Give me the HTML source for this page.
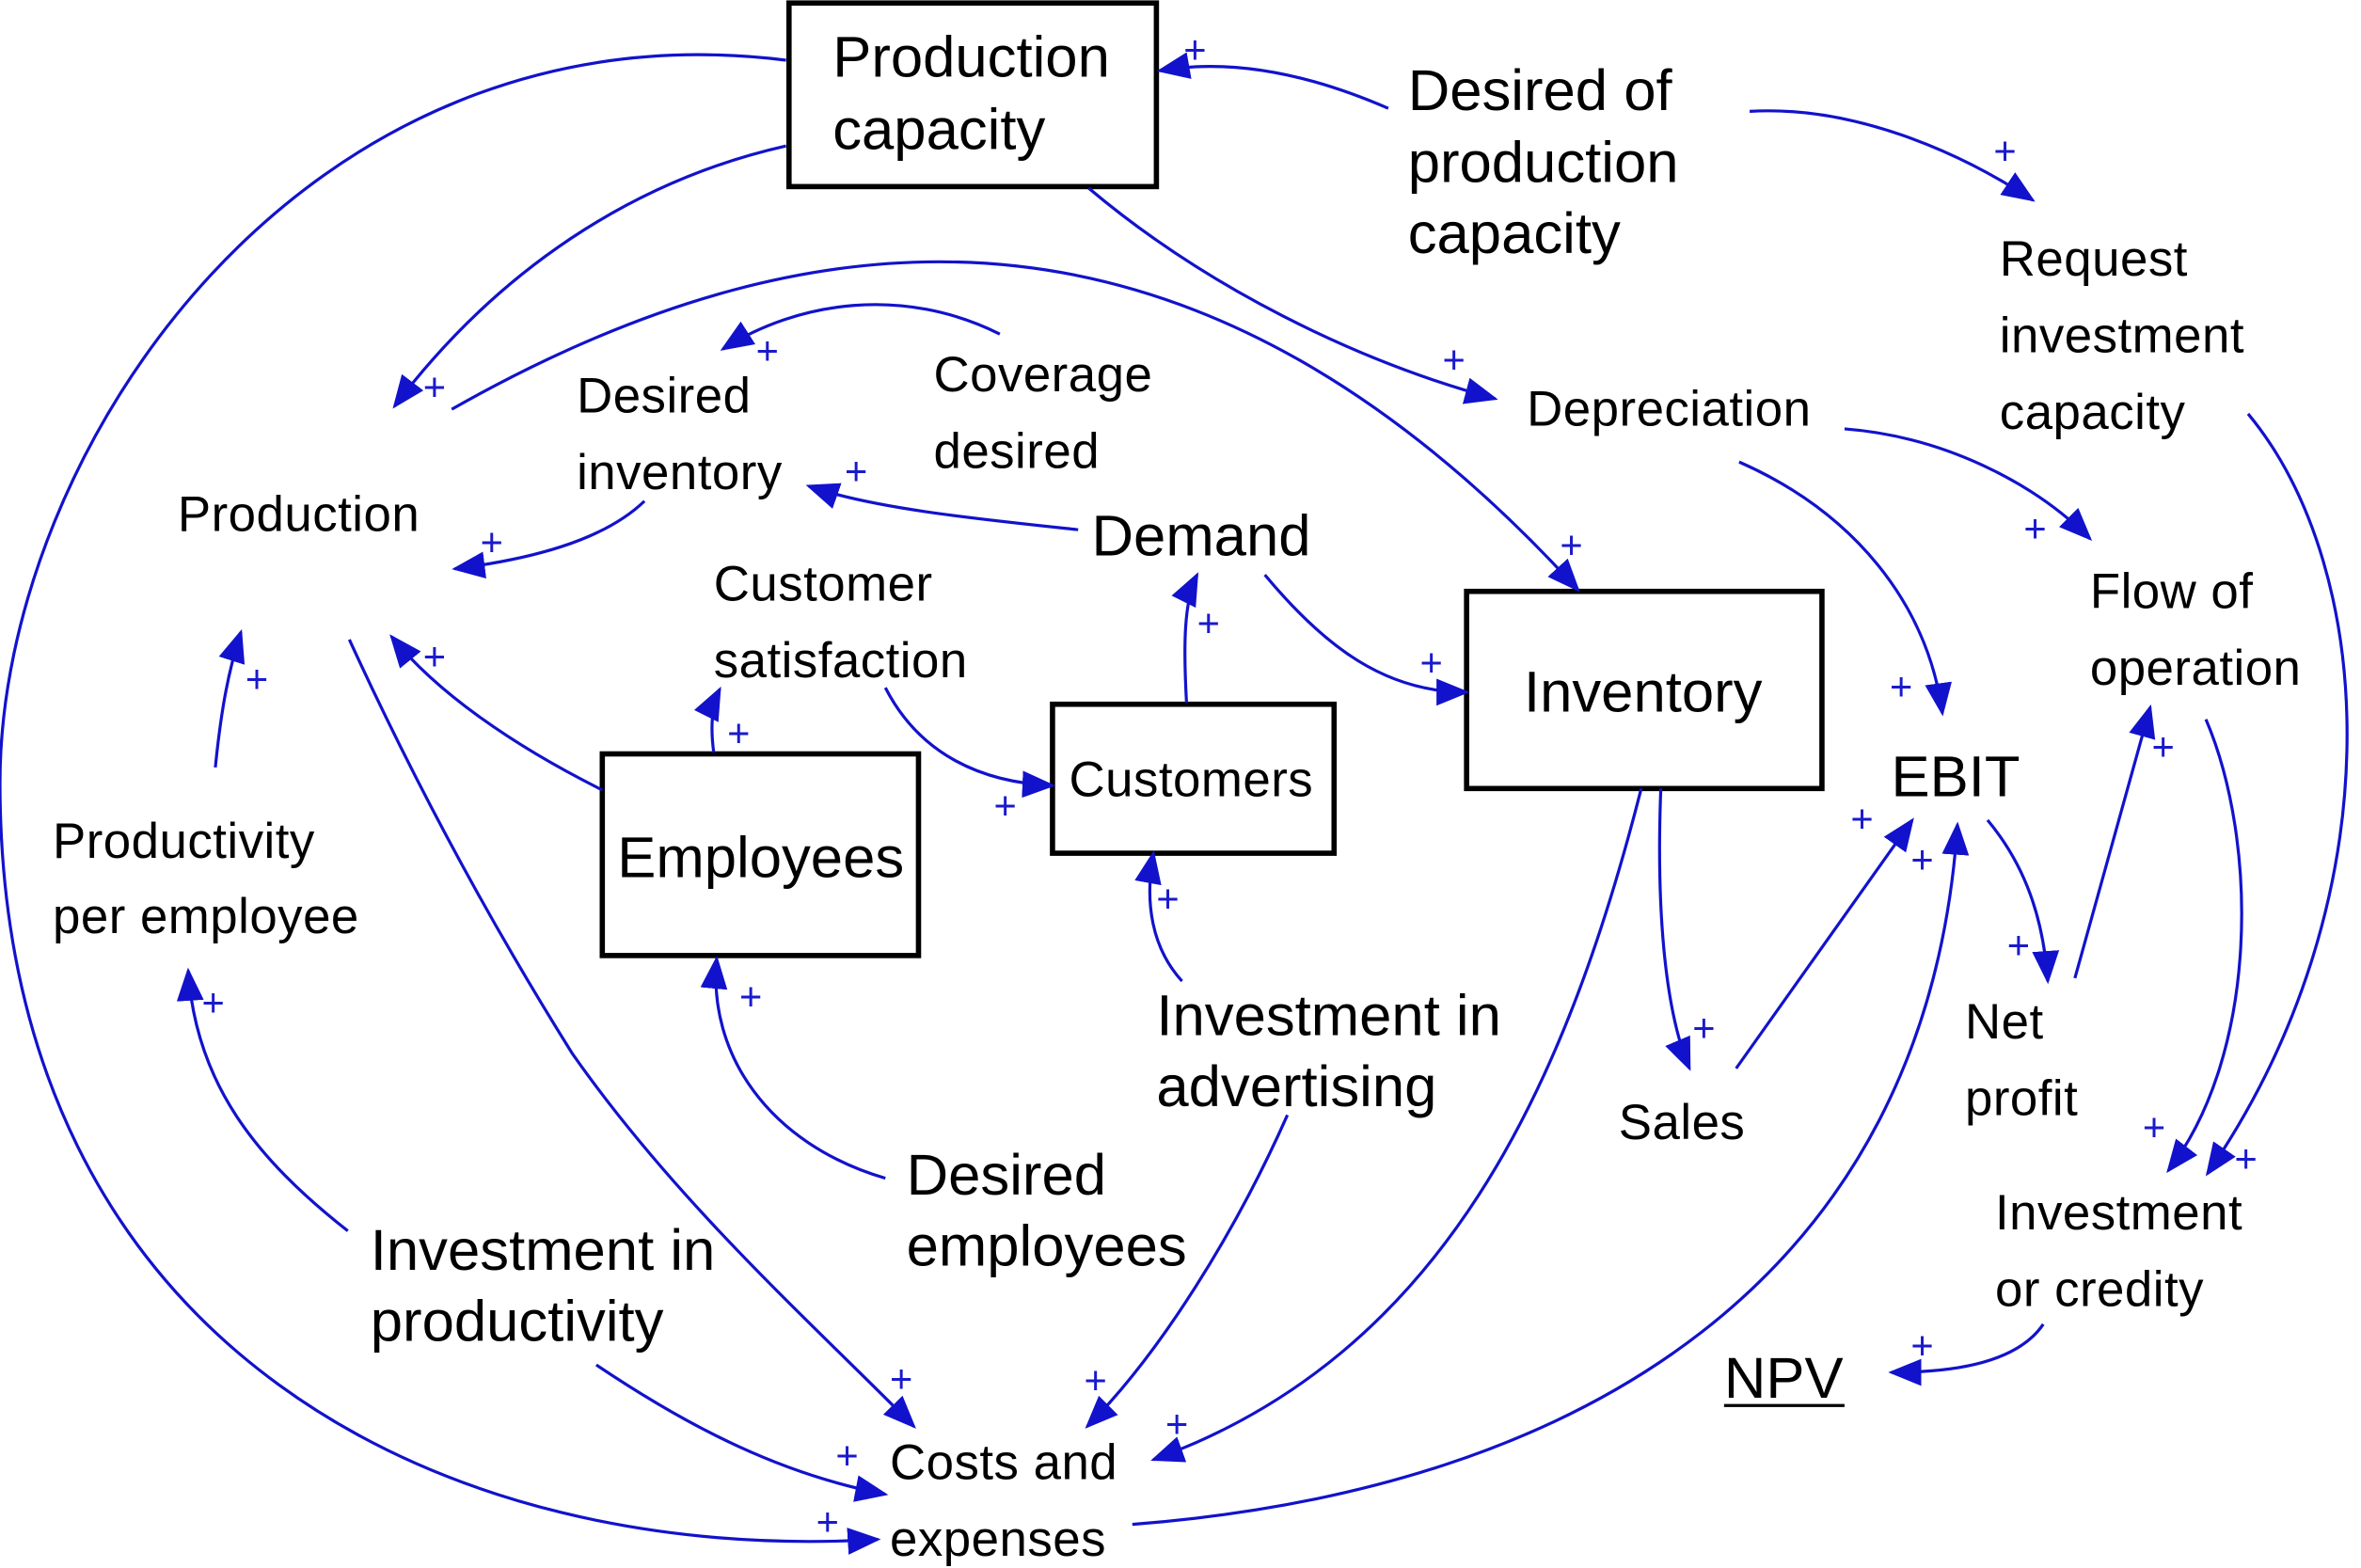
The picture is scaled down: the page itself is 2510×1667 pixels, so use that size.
<!DOCTYPE html>
<html><head><meta charset="utf-8"><style>
html,body{margin:0;padding:0;background:#fff;}
svg{display:block;}
text{font-family:"Liberation Sans",sans-serif;fill:#000;}
text.p{fill:#1a1acc;font-size:26px;}
.s{font-size:33px;letter-spacing:0.3px;}
.b{font-size:38.5px;}
</style></head><body>
<svg width="2510" height="1667" viewBox="0 0 1568 1042" preserveAspectRatio="none" xmlns="http://www.w3.org/2000/svg">
<defs><marker id="a" markerUnits="userSpaceOnUse" markerWidth="24" markerHeight="20" refX="20" refY="9" orient="auto"><path d="M0,0 L22,9 L0,18 z" fill="#1212cc"/></marker></defs>
<g fill="none" stroke="#000" stroke-width="3.5">
<rect x="524" y="2" width="244" height="122"/>
<rect x="974" y="393" width="236" height="131"/>
<rect x="699" y="468" width="187" height="99"/>
<rect x="400" y="501" width="210" height="134"/>
</g>
<g fill="none" stroke="#1212cc" stroke-width="2" marker-end="url(#a)">
<path d="M522,40 C200,0 0,300 0,520 C0,900 300,1040 583,1023"/>
<path d="M522,97 C420,120 330,180 262,270"/>
<path d="M922,72 C860,45 810,40 770,47"/>
<path d="M1162,74 C1230,70 1300,100 1350,133"/>
<path d="M723,125 C800,190 900,240 993,265"/>
<path d="M300,272 C550,130 800,120 1048,392"/>
<path d="M664,222 C600,190 530,200 480,232"/>
<path d="M716,352 C650,345 580,338 537,323"/>
<path d="M428,333 C400,360 350,372 302,378"/>
<path d="M400,525 C340,495 290,460 260,423"/>
<path d="M474,500 C472,485 472,470 478,458"/>
<path d="M588,457 C610,500 650,520 699,522"/>
<path d="M788,467 C786,430 786,400 795,382"/>
<path d="M840,382 C880,430 920,460 974,460"/>
<path d="M232,425 C280,530 330,620 380,700 C450,800 540,880 607,948"/>
<path d="M143,510 C147,470 152,445 160,420"/>
<path d="M231,818 C170,770 130,720 125,645"/>
<path d="M396,907 C460,950 520,980 588,993"/>
<path d="M588,783 C510,760 470,700 476,637"/>
<path d="M855,741 C820,820 770,900 722,948"/>
<path d="M785,652 C765,630 760,600 766,567"/>
<path d="M1090,524 C1040,720 960,900 766,970"/>
<path d="M1103,524 C1100,600 1105,670 1122,710"/>
<path d="M1153,710 L1270,545"/>
<path d="M752,1013 C1050,990 1280,850 1300,548"/>
<path d="M1155,307 C1230,340 1280,400 1290,474"/>
<path d="M1225,285 C1290,290 1350,320 1388,358"/>
<path d="M1320,545 C1345,575 1357,610 1360,652"/>
<path d="M1378,650 L1428,470"/>
<path d="M1465,478 C1500,560 1500,700 1440,778"/>
<path d="M1493,275 C1580,380 1590,600 1466,780"/>
<path d="M1357,880 C1340,905 1300,912 1256,912"/>
</g>
<g>
<text class="p" x="542" y="1020">+</text><text class="p" x="281" y="266">+</text><text class="p" x="786" y="42">+</text>
<text class="p" x="1324" y="109">+</text><text class="p" x="958" y="248">+</text><text class="p" x="1036" y="371">+</text>
<text class="p" x="502" y="242">+</text><text class="p" x="561" y="322">+</text><text class="p" x="319" y="369">+</text>
<text class="p" x="281" y="445">+</text><text class="p" x="483" y="496">+</text><text class="p" x="660" y="544">+</text>
<text class="p" x="795" y="423">+</text><text class="p" x="943" y="449">+</text><text class="p" x="591" y="925">+</text>
<text class="p" x="163" y="460">+</text><text class="p" x="134" y="675">+</text><text class="p" x="555" y="976">+</text>
<text class="p" x="491" y="671">+</text><text class="p" x="720" y="926">+</text><text class="p" x="768" y="606">+</text>
<text class="p" x="774" y="955">+</text><text class="p" x="1124" y="692">+</text><text class="p" x="1229" y="553">+</text>
<text class="p" x="1269" y="580">+</text><text class="p" x="1255" y="465">+</text><text class="p" x="1344" y="360">+</text>
<text class="p" x="1333" y="637">+</text><text class="p" x="1429" y="505">+</text><text class="p" x="1423" y="758">+</text>
<text class="p" x="1484" y="779">+</text><text class="p" x="1269" y="903">+</text>
</g>
<text class="b" x="553" y="51">Production</text><text class="b" x="553" y="99">capacity</text>
<text class="b" x="935" y="73">Desired of</text><text class="b" x="935" y="121">production</text><text class="b" x="935" y="168">capacity</text>
<text class="s" x="1328" y="183">Request</text><text class="s" x="1328" y="234">investment</text><text class="s" x="1328" y="285">capacity</text>
<text class="s" x="1014" y="283">Depreciation</text>
<text class="s" x="620" y="260">Coverage</text><text class="s" x="620" y="311">desired</text>
<text class="s" x="383" y="274">Desired</text><text class="s" x="383" y="325">inventory</text>
<text class="s" x="118" y="353">Production</text>
<text class="b" x="725" y="369">Demand</text>
<text class="s" x="474" y="399">Customer</text><text class="s" x="474" y="450">satisfaction</text>
<text class="b" x="1012" y="473">Inventory</text>
<text class="s" x="1388" y="404">Flow of</text><text class="s" x="1388" y="455">operation</text>
<text class="b" x="1256" y="529">EBIT</text>
<text class="s" x="710" y="529">Customers</text>
<text class="b" x="410" y="583">Employees</text>
<text class="s" x="35" y="570">Productivity</text><text class="s" x="35" y="620">per employee</text>
<text class="b" x="768" y="688">Investment in</text><text class="b" x="768" y="735">advertising</text>
<text class="s" x="1305" y="690">Net</text><text class="s" x="1305" y="741">profit</text>
<text class="s" x="1075" y="757">Sales</text>
<text class="b" x="602" y="794">Desired</text><text class="b" x="602" y="841">employees</text>
<text class="s" x="1325" y="817">Investment</text><text class="s" x="1325" y="868">or credity</text>
<text class="b" x="246" y="844">Investment in</text><text class="b" x="246" y="891">productivity</text>
<text class="b" x="1145" y="929">NPV</text>
<line x1="1145" y1="934" x2="1225" y2="934" stroke="#000" stroke-width="2"/>
<text class="s" x="591" y="983">Costs and</text><text class="s" x="591" y="1034">expenses</text>
</svg>
</body></html>
